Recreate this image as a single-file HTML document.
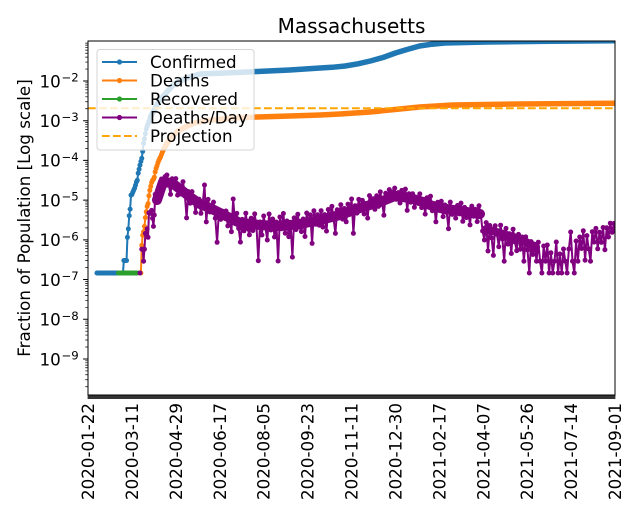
<!DOCTYPE html>
<html><head><meta charset="utf-8">
<style>
html,body{margin:0;padding:0;background:#fff;}
svg{display:block;}
text{font-family:"DejaVu Sans","Liberation Sans",sans-serif;fill:#000;}
</style></head>
<body>
<svg width="640" height="520" viewBox="0 0 640 520" xmlns="http://www.w3.org/2000/svg">
<defs>
<clipPath id="clip"><rect x="88" y="41" width="527" height="354"/></clipPath>
<marker id="mb" markerWidth="6" markerHeight="6" refX="3" refY="3" markerUnits="userSpaceOnUse"><circle cx="3" cy="3" r="2.5" fill="#1f77b4"/></marker>
<marker id="mo" markerWidth="6" markerHeight="6" refX="3" refY="3" markerUnits="userSpaceOnUse"><circle cx="3" cy="3" r="2.5" fill="#ff7f0e"/></marker>
<marker id="mp" markerWidth="6" markerHeight="6" refX="3" refY="3" markerUnits="userSpaceOnUse"><circle cx="3" cy="3" r="2.5" fill="#800080"/></marker>
</defs>
<rect width="640" height="520" fill="#fff"/>
<g clip-path="url(#clip)" fill="none" stroke-linejoin="round">
  <!-- Confirmed -->
  <path d="M96.96 273 L122.95 273" stroke="#1f77b4" stroke-width="5" stroke-linecap="round"/>
  <path d="M122.95 273 L123.85 260.5 L124.75 260.5 L125.64 260.5 L126.54 260.5 L127.44 237.3 L128.33 228.9 L129.23 215.7 L130.12 209.1 L131.02 195.1 L131.92 194.5 L132.81 192.3 L133.71 190.1 L134.61 188.1 L135.5 185.2 L136.4 182 L137.29 180.3 L138.19 173.2 L139.09 169.2 L139.98 165.1 L140.88 161.5 L141.78 158.3 L142.67 151.4 L143.57 143.5 L144.46 138.8 L145.36 133.7 L146.26 129 L147.15 126.4 L148.05 123.8 L148.95 121.4 L149.84 118.7 L150.74 116.2" stroke="#1f77b4" stroke-width="2" marker-start="url(#mb)" marker-mid="url(#mb)" marker-end="url(#mb)"/>
  <path d="M150.74 116.2 L154.32 110 L158.8 101.5 L163.29 96 L167.77 91 L172.25 86 L177.63 82 L186.59 78 L200.03 74 L231.4 72.8 L257.39 71.5 L289.66 70 L320.13 68 L332 67.3 L345.23 66 L358 63.8 L370.32 61 L383 57.5 L395.42 53 L407 49.5 L419.62 46 L432 44.2 L444.72 43 L486.84 42 L549.57 41.3 L615 40.8" stroke="#1f77b4" stroke-width="5.5" stroke-linecap="round"/>
  <!-- Deaths -->
  <path d="M139.98 273 L140.88 273 L141.78 245.4 L142.67 235.2 L143.57 231.8 L144.46 226.4 L145.36 217.6 L146.26 211.8 L147.15 206.4 L148.05 203.7 L148.95 195.7 L149.84 190.3 L150.74 186.3 L151.63 182.5 L152.53 180.4 L153.43 179.3 L154.32 177.2 L155.22 171.8 L156.12 168.4 L157.01 165.9 L157.91 162.8 L158.8 160.5 L159.7 158.7 L160.6 156.9 L161.49 154.5 L162.39 152.2 L163.29 150.1 L164.18 148.1" stroke="#ff7f0e" stroke-width="2" marker-start="url(#mo)" marker-mid="url(#mo)" marker-end="url(#mo)"/>
  <path d="M164.18 148.1 L167.77 142.4 L172.25 136.7 L177.63 131.3 L185.69 126.8 L194.65 122.9 L205.41 120.5 L233.19 118 L257.39 117 L289.66 116 L320.13 115 L339.85 114 L370.32 112 L399.9 109 L419.62 107 L452.78 105 L519.8 104 L615 103.3" stroke="#ff7f0e" stroke-width="5.5" stroke-linecap="round"/>
  <!-- Recovered -->
  <path d="M118.47 273 L137.29 273" stroke="#2ca02c" stroke-width="5" stroke-linecap="round"/>
  <!-- Deaths/Day dense core band -->
  <path d="M157 200 L163 182 L172 183 L180 189 L190 197 L200 204 L210 208 L220 213 L230 218 L240 223 L260 225 L280 226 L300 224 L320 220 L340 215 L360 208 L380 202 L395 196 L410 198 L420 201 L430 205 L440 208 L460 211 L480 214" stroke="#800080" stroke-width="10" stroke-linecap="round"/>
  <path d="M486 229 L500 233 L520 239 L536 247" stroke="#800080" stroke-width="8" stroke-linecap="round"/>
  <!-- Deaths/Day -->
  <circle cx="139.98" cy="273" r="2.5" fill="#800080" stroke="none"/>
  <path d="M141.78 249.2 L142.67 249.2 L143.57 261.2 L144.46 249.2 L145.36 233.4 L146.26 233.4 L147.15 228.9 L148.05 237.3 L148.95 212.8 L149.84 212.8 L150.74 213.4 L151.63 210.4 L152.53 218.3 L153.43 226.4 L154.32 215 L155.22 194.4 L156.12 198.2 L157.01 199.8 L157.91 194.4 L158.8 196.1 L159.7 193 L161.5 179 L163.3 185 L165.1 176.6 L166.9 175 L168.7 183.6 L170.5 194.4 L172.2 178.8 L174 184.2 L175.8 178.6 L177.6 195.1 L179.4 186.5 L181.2 194.1 L183 181.7 L184.8 194.3 L186.6 217.9 L188.4 191.6 L190.2 203.2 L192 191.6 L193.8 200 L195.6 212.5 L197.4 199.9 L199.1 199.3 L200.9 213.3 L202.7 203.8 L204.5 185 L206.3 221.9 L208.1 199.4 L209.9 212 L211.7 208 L213.5 202.1 L215.3 218.2 L217.1 242.3 L218.9 211.3 L220.7 219.4 L222.5 211.3 L224.3 217.2 L226 211 L227.8 225.9 L229.6 215.8 L231.4 231.7 L233.2 199 L235 223.5 L236.8 213.4 L238.6 228.3 L240.4 242.1 L242.2 219.4 L244 230.8 L245.8 213.2 L247.6 228.5 L249.4 234.9 L251.2 218.2 L252.9 230.6 L254.7 213.9 L256.5 226.3 L258.3 260.7 L260.1 222 L261.9 235 L263.7 216 L265.5 228 L267.3 240 L269.1 214 L270.9 230 L272.7 219 L274.5 237 L276.3 222 L278.1 261 L279.9 217 L281.6 228.8 L283.4 213.5 L285.2 233.2 L287 221 L288.8 236.7 L290.6 223.4 L292.4 257.1 L294.2 217.9 L296 229.6 L297.8 214.3 L299.6 227.1 L301.4 231.6 L303.2 219 L305 236.5 L306.7 213 L308.5 223.5 L310.3 214.9 L312.1 243.4 L313.9 210.8 L315.7 224.3 L317.5 214.8 L319.3 225.2 L321.1 210.7 L322.9 227.1 L324.7 214.6 L326.5 231.1 L328.3 209.5 L330.1 219 L331.9 206.4 L333.7 219.9 L335.4 233.4 L337.2 209.8 L339 215.3 L340.8 204.7 L342.6 219.1 L344.4 208.5 L346.2 221.8 L348 204.2 L349.8 213.6 L351.6 199 L353.4 233.3 L355.2 205.7 L357 213.1 L358.8 199.4 L360.6 208.9 L362.4 200.4 L364.1 214 L365.9 203.5 L367.7 218.1 L369.5 195.6 L371.3 205.2 L373.1 198.7 L374.9 209.3 L376.7 195.8 L378.5 206.4 L380.3 191.9 L382.1 203 L383.9 215.2 L385.7 193.3 L387.5 198.5 L389.3 189.6 L391.1 199.8 L392.9 192 L394.7 188.1 L396.5 199.3 L398.2 192.6 L400 203 L401.8 190.4 L403.6 197.7 L405.4 189.1 L407.2 210.4 L409 193.8 L410.8 202.2 L412.6 193.8 L414.4 207.3 L416.2 197.9 L418 203.4 L419.8 193.9 L421.6 207.6 L423.4 199.4 L425.2 214.1 L427 197.8 L428.7 206.5 L430.5 196.2 L432.3 210.7 L434.1 204.2 L435.9 221.8 L437.7 202.3 L439.5 208.9 L441.3 201.3 L443.1 216.6 L444.9 205 L446.7 212.3 L448.5 228.7 L450.3 202.1 L452.1 214.4 L453.9 207.8 L455.7 218.1 L457.5 205.5 L459.3 213.9 L461 203.1 L462.8 221.3 L464.6 207.4 L466.4 217.6 L468.2 210.8 L470 224.9 L471.8 206.1 L473.6 216.2 L475.4 209.4 L477.2 221.6 L479 205.8 L480.8 215 L482.6 231 L484.4 240 L486.2 222.6 L488 251 L489.8 225.5 L491.6 237.9 L493.4 255.4 L495.2 225.8 L497 234.3 L498.8 246.7 L500.6 225.2 L502.4 239 L504.2 261.2 L506 228.4 L507.8 244.1 L509.6 233.8 L511.3 253.5 L513.1 229.2 L514.9 242 L516.7 250.7 L518.5 234.4 L520.3 249.2 L522.1 237 L523.9 261.2 L525.7 236.9 L527.5 249.8 L529.3 273 L531.1 241.6 L532.9 254.5 L534.7 244.4 L536.5 261.2 L538.3 242.2 L540.1 261.2 L541.9 273 L543.7 246 L545.5 261.2 L547.3 245 L549.1 273 L550.9 252.8 L552.7 273 L554.5 261.2 L556.3 242 L558.1 273 L559.9 254 L561.7 273 L563.5 249 L565.3 261.2 L567.1 273 L568.9 249 L570.7 232 L572.5 261.2 L574.3 273 L576.1 241 L577.9 261.2 L579.7 237 L581.5 248.5 L583.3 230.8 L585.1 260.2 L586.9 235.6 L588.7 248.9 L590.5 261.2 L592.3 231.7 L594.1 242.1 L595.9 228.4 L597.7 248.8 L599.5 232.2 L601.3 242.4 L603.1 227.5 L604.9 249.7 L606.7 227.8 L608.5 237 L610.3 223.2 L612.1 232.3 L613.9 223.5 L615.7 230" stroke="#800080" stroke-width="2" marker-start="url(#mp)" marker-mid="url(#mp)" marker-end="url(#mp)"/>
  <!-- Projection -->
  <line x1="88" y1="108.3" x2="615" y2="108.3" stroke="#ffa500" stroke-width="2" stroke-dasharray="7.7 3.3"/>
</g>

<!-- x ticks (daily, dense) -->
<rect x="87.6" y="395" width="527.8" height="4" fill="#333"/>
<!-- y ticks -->
<path stroke="#000" stroke-width="1" fill="none" d="M83.1 81H88M83.1 120.71H88M83.1 160.42H88M83.1 200.13H88M83.1 239.84H88M83.1 279.55H88M83.1 319.26H88M83.1 358.97H88"/>
<path stroke="#000" stroke-width="0.7" fill="none" d="
M85.2 69.05H88M85.2 62.05H88M85.2 57.09H88M85.2 53.24H88M85.2 50.1H88M85.2 47.44H88M85.2 45.14H88M85.2 43.11H88
M85.2 108.76H88M85.2 101.76H88M85.2 96.8H88M85.2 92.95H88M85.2 89.81H88M85.2 87.15H88M85.2 84.85H88M85.2 82.82H88
M85.2 148.47H88M85.2 141.47H88M85.2 136.51H88M85.2 132.66H88M85.2 129.52H88M85.2 126.86H88M85.2 124.56H88M85.2 122.53H88
M85.2 188.18H88M85.2 181.18H88M85.2 176.22H88M85.2 172.37H88M85.2 169.23H88M85.2 166.57H88M85.2 164.27H88M85.2 162.24H88
M85.2 227.89H88M85.2 220.89H88M85.2 215.93H88M85.2 212.08H88M85.2 208.94H88M85.2 206.28H88M85.2 203.98H88M85.2 201.95H88
M85.2 267.6H88M85.2 260.6H88M85.2 255.64H88M85.2 251.79H88M85.2 248.65H88M85.2 245.99H88M85.2 243.69H88M85.2 241.66H88
M85.2 307.31H88M85.2 300.31H88M85.2 295.35H88M85.2 291.5H88M85.2 288.36H88M85.2 285.7H88M85.2 283.4H88M85.2 281.37H88
M85.2 347.02H88M85.2 340.02H88M85.2 335.06H88M85.2 331.21H88M85.2 328.07H88M85.2 325.41H88M85.2 323.11H88M85.2 321.08H88
M85.2 386.73H88M85.2 379.73H88M85.2 374.77H88M85.2 370.92H88M85.2 367.78H88M85.2 365.12H88M85.2 362.82H88M85.2 360.79H88"/>
<rect x="88" y="41" width="527" height="354" fill="none" stroke="#000" stroke-width="1"/>

<text x="351.5" y="33" font-size="20" text-anchor="middle">Massachusetts</text>
<text transform="translate(30,218) rotate(-90)" font-size="16.7" text-anchor="middle">Fraction of Population [Log scale]</text>

<g font-size="16.7">
<text x="39.5" y="87.3">10</text><text x="61.5" y="81.5" font-size="11.7">−2</text>
<text x="39.5" y="127">10</text><text x="61.5" y="121.2" font-size="11.7">−3</text>
<text x="39.5" y="166.7">10</text><text x="61.5" y="160.9" font-size="11.7">−4</text>
<text x="39.5" y="206.4">10</text><text x="61.5" y="200.6" font-size="11.7">−5</text>
<text x="39.5" y="246.1">10</text><text x="61.5" y="240.3" font-size="11.7">−6</text>
<text x="39.5" y="285.9">10</text><text x="61.5" y="280.1" font-size="11.7">−7</text>
<text x="39.5" y="325.6">10</text><text x="61.5" y="319.8" font-size="11.7">−8</text>
<text x="39.5" y="365.3">10</text><text x="61.5" y="359.5" font-size="11.7">−9</text>
</g>

<g font-size="16.7" text-anchor="end">
<text transform="translate(94,403) rotate(-90)">2020-01-22</text>
<text transform="translate(137.9,403) rotate(-90)">2020-03-11</text>
<text transform="translate(181.8,403) rotate(-90)">2020-04-29</text>
<text transform="translate(225.8,403) rotate(-90)">2020-06-17</text>
<text transform="translate(269.7,403) rotate(-90)">2020-08-05</text>
<text transform="translate(313.6,403) rotate(-90)">2020-09-23</text>
<text transform="translate(357.5,403) rotate(-90)">2020-11-11</text>
<text transform="translate(401.4,403) rotate(-90)">2020-12-30</text>
<text transform="translate(445.3,403) rotate(-90)">2021-02-17</text>
<text transform="translate(489.3,403) rotate(-90)">2021-04-07</text>
<text transform="translate(533.2,403) rotate(-90)">2021-05-26</text>
<text transform="translate(577.1,403) rotate(-90)">2021-07-14</text>
<text transform="translate(621,403) rotate(-90)">2021-09-01</text>
</g>

<g>
<rect x="97" y="49.5" width="157" height="100.5" rx="3" fill="#fff" fill-opacity="0.8" stroke="#d4d4d4" stroke-width="1"/>
<line x1="102" y1="62" x2="137" y2="62" stroke="#1f77b4" stroke-width="2"/><circle cx="119.5" cy="62" r="2.6" fill="#1f77b4"/>
<line x1="102" y1="80.5" x2="137" y2="80.5" stroke="#ff7f0e" stroke-width="2"/><circle cx="119.5" cy="80.5" r="2.6" fill="#ff7f0e"/>
<line x1="102" y1="99" x2="137" y2="99" stroke="#2ca02c" stroke-width="2"/><circle cx="119.5" cy="99" r="2.6" fill="#2ca02c"/>
<line x1="102" y1="117.5" x2="137" y2="117.5" stroke="#800080" stroke-width="2"/><circle cx="119.5" cy="117.5" r="2.6" fill="#800080"/>
<line x1="102" y1="136" x2="137" y2="136" stroke="#ffa500" stroke-width="2" stroke-dasharray="7.7 3.3"/>
<g font-size="16.7">
<text x="150" y="68">Confirmed</text>
<text x="150" y="86.5">Deaths</text>
<text x="150" y="105">Recovered</text>
<text x="150" y="123.5">Deaths/Day</text>
<text x="150" y="142">Projection</text>
</g>
</g>
</svg>
</body></html>
